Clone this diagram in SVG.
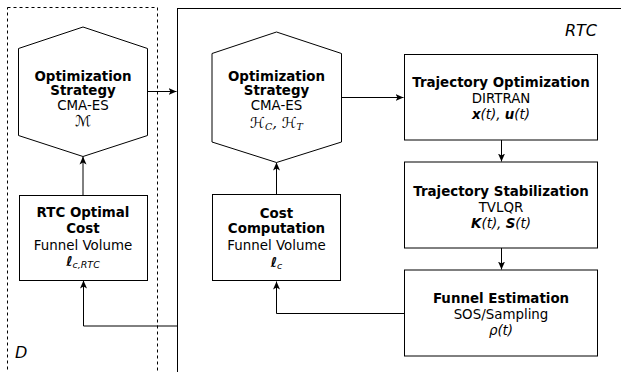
<svg xmlns="http://www.w3.org/2000/svg" width="621" height="372" viewBox="0 0 621 372">
<defs>
<style>
.box{fill:#fff;stroke:#000;stroke-width:1}
.frame{fill:none;stroke:#000;stroke-width:1}
.dash{fill:none;stroke:#000;stroke-width:1;stroke-dasharray:3,3}
.conn{fill:none;stroke:#000;stroke-width:1}
text{font-family:"DejaVu Sans",sans-serif;font-size:13.4px;fill:#000;text-anchor:middle}
.b{font-weight:bold}
.i{font-style:italic}
.lbl{font-size:16px;font-style:italic}
.m{font-family:"DejaVu Serif","DejaVu Sans",serif;font-style:italic;font-size:15px}
.sub{font-size:9.5px;font-style:italic}
</style>
<marker id="ah" markerWidth="9" markerHeight="8" refX="8" refY="4" orient="auto" markerUnits="userSpaceOnUse">
<path d="M0,0.5 L8,4 L0,7.5 L2,4 z" fill="#000"/>
</marker>
</defs>
<g id="frame-D">
<rect class="dash" x="7.5" y="7.5" width="150" height="400"/>
<text class="lbl" x="15" y="358" style="text-anchor:start">D</text>
</g>
<g id="frame-RTC">
<rect class="frame" x="177.5" y="8.5" width="500" height="400"/>
<text class="lbl" x="597" y="36" style="text-anchor:end">RTC</text>
</g>
<g id="connectors">
<path class="conn" d="M147,91.5 H176.5" marker-end="url(#ah)"/>
<path class="conn" d="M83,195 V156.5" marker-end="url(#ah)"/>
<path class="conn" d="M177.5,326 H83.5 V280.5" marker-end="url(#ah)"/>
<path class="conn" d="M342,97.5 H403.5" marker-end="url(#ah)"/>
<path class="conn" d="M276.5,194 V162.5" marker-end="url(#ah)"/>
<path class="conn" d="M404,313.5 H276.5 V281.5" marker-end="url(#ah)"/>
<path class="conn" d="M501.5,140 V161.5" marker-end="url(#ah)"/>
<path class="conn" d="M501.5,248 V269.5" marker-end="url(#ah)"/>
</g>
<g id="opt-strategy-outer">
<polygon class="box" points="18.5,48.5 83,27 147.5,48.5 147.5,135.5 83,156.5 18.5,135.5"/>
<text class="b" x="83" y="80.5">Optimization</text>
<text class="b" x="83" y="95">Strategy</text>
<text x="83" y="110">CMA-ES</text>
<text class="m" x="83" y="126">ℳ</text>
</g>
<g id="rtc-optimal-cost">
<rect class="box" x="19.5" y="195.5" width="128" height="85"/>
<text class="b" x="83" y="217">RTC Optimal</text>
<text class="b" x="83" y="233">Cost</text>
<text x="83" y="250">Funnel Volume</text>
<text x="83" y="266"><tspan class="i" font-weight="bold">ℓ</tspan><tspan class="sub" dy="2">c,RTC</tspan></text>
</g>
<g id="opt-strategy-inner">
<polygon class="box" points="212,53.5 276.5,32 341.5,53.5 341.5,142 276.5,162.5 212,142"/>
<text class="b" x="276.5" y="80.5">Optimization</text>
<text class="b" x="276.5" y="95">Strategy</text>
<text x="276.5" y="110">CMA-ES</text>
<text class="m" x="276.5" y="128">ℋ<tspan class="sub" dy="2">C</tspan><tspan dy="-2">, ℋ</tspan><tspan class="sub" dy="2">T</tspan></text>
</g>
<g id="cost-computation">
<rect class="box" x="212.5" y="194.5" width="128" height="86"/>
<text class="b" x="276.5" y="218">Cost</text>
<text class="b" x="276.5" y="233">Computation</text>
<text x="276.5" y="250">Funnel Volume</text>
<text x="276.5" y="267"><tspan class="i" font-weight="bold">ℓ</tspan><tspan class="sub" dy="2">c</tspan></text>
</g>
<g id="trajectory-optimization">
<rect class="box" x="404.5" y="54.5" width="193" height="85.5"/>
<text class="b" x="501" y="87">Trajectory Optimization</text>
<text x="501" y="103">DIRTRAN</text>
<text class="i" x="501" y="119"><tspan font-weight="bold">x</tspan>(t), <tspan font-weight="bold">u</tspan>(t)</text>
</g>
<g id="trajectory-stabilization">
<rect class="box" x="404.5" y="162" width="193" height="86"/>
<text class="b" x="501" y="196">Trajectory Stabilization</text>
<text x="501" y="212">TVLQR</text>
<text class="i" x="501" y="228"><tspan font-weight="bold">K</tspan>(t), <tspan font-weight="bold">S</tspan>(t)</text>
</g>
<g id="funnel-estimation">
<rect class="box" x="404.5" y="270" width="193" height="86"/>
<text class="b" x="501" y="303">Funnel Estimation</text>
<text x="501" y="319">SOS/Sampling</text>
<text class="i" x="501" y="335">ρ(t)</text>
</g>
</svg>
